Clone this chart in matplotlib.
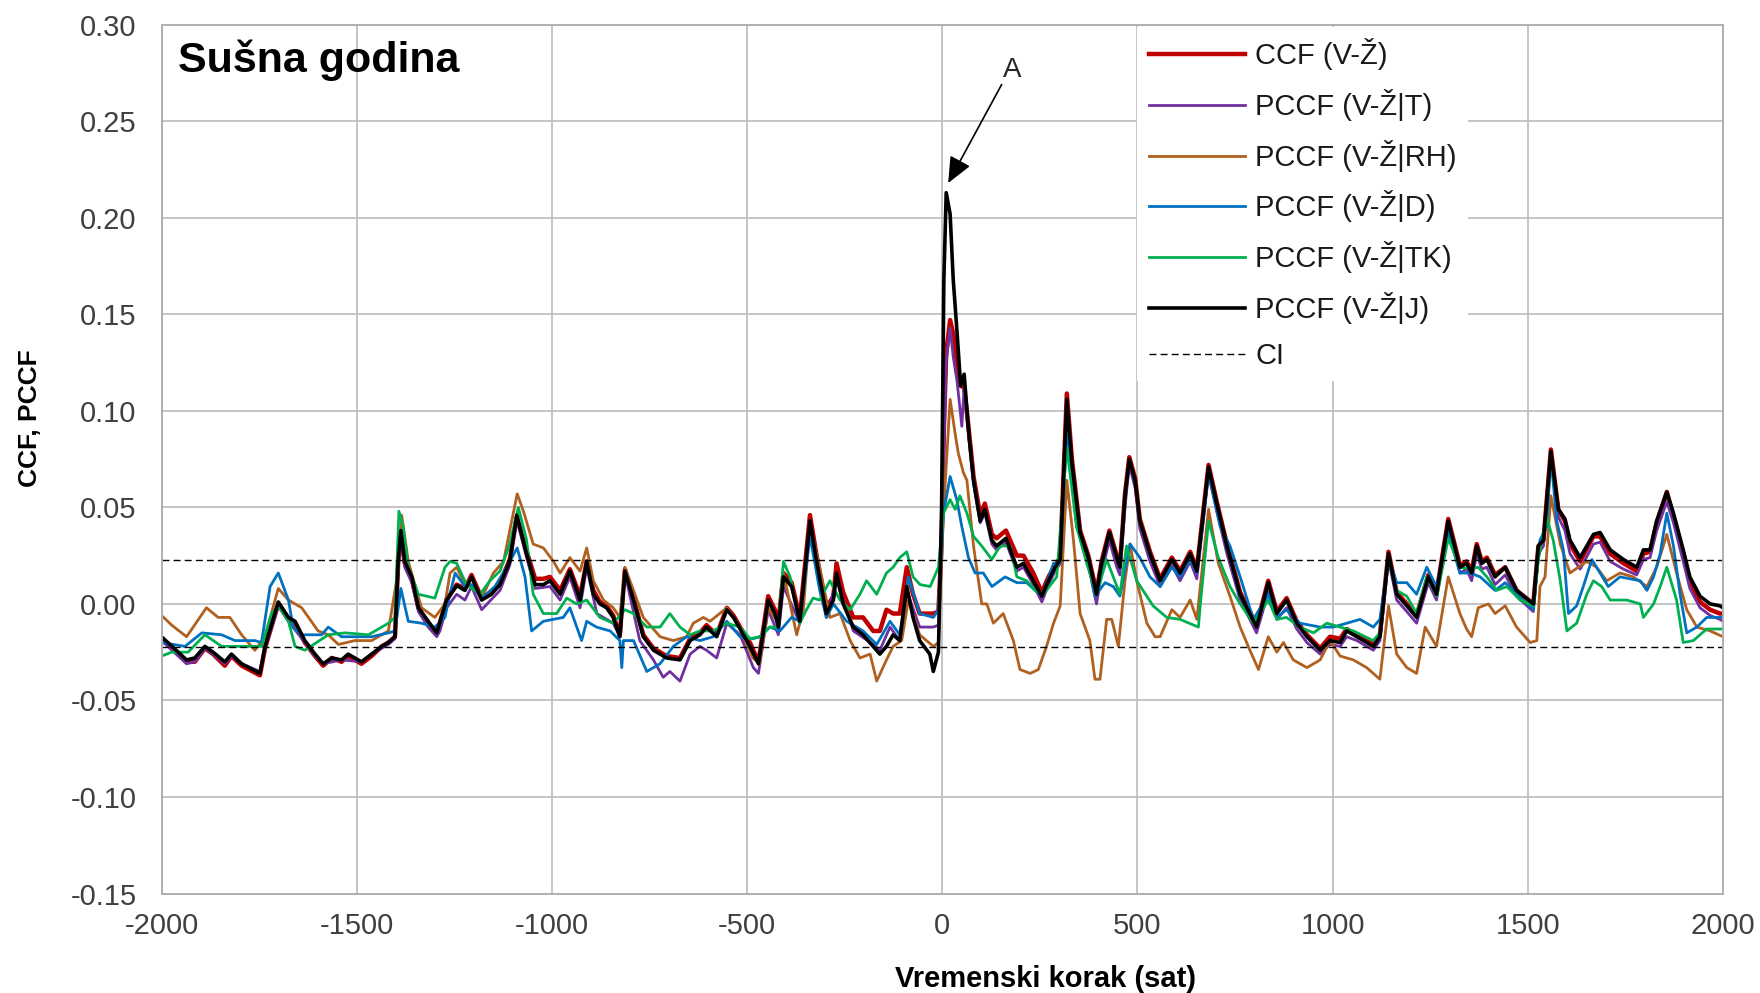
import matplotlib
matplotlib.use("Agg")
import matplotlib.pyplot as plt

plt.rcParams['font.family'] = ['Liberation Sans', 'DejaVu Sans']
plt.rcParams['axes.unicode_minus'] = False

# (lag in hours, coefficient)
ccf_pts = [(-2000, -0.018), (-1936, -0.030), (-1915, -0.030), (-1889, -0.023), (-1868, -0.026), (-1838, -0.032),
           (-1821, -0.027), (-1795, -0.032), (-1748, -0.037), (-1735, -0.023), (-1701, 0.000), (-1675, -0.008),
           (-1658, -0.010), (-1633, -0.020), (-1607, -0.027), (-1586, -0.032), (-1564, -0.028), (-1539, -0.030),
           (-1522, -0.027), (-1488, -0.031), (-1462, -0.027), (-1436, -0.022), (-1419, -0.020), (-1402, -0.017),
           (-1394, 0.021), (-1387, 0.036), (-1377, 0.021), (-1359, 0.013), (-1342, -0.002), (-1317, -0.010),
           (-1295, -0.015), (-1270, 0.002), (-1244, 0.010), (-1223, 0.008), (-1206, 0.015), (-1180, 0.003),
           (-1155, 0.006), (-1133, 0.011), (-1108, 0.023), (-1090, 0.045), (-1069, 0.030), (-1043, 0.013),
           (-1022, 0.013), (-1005, 0.014), (-979, 0.007), (-954, 0.018), (-928, 0.004), (-911, 0.022),
           (-894, 0.007), (-877, 0.001), (-860, -0.001), (-843, -0.006), (-826, -0.016), (-813, 0.018),
           (-791, 0.003), (-766, -0.016), (-740, -0.023), (-706, -0.027), (-672, -0.028), (-646, -0.018),
           (-621, -0.015), (-604, -0.011), (-578, -0.016), (-552, -0.002), (-535, -0.006), (-518, -0.012),
           (-493, -0.020), (-471, -0.030), (-446, 0.004), (-429, -0.003), (-420, -0.010), (-407, 0.016),
           (-386, 0.011), (-365, -0.007), (-339, 0.046), (-322, 0.025), (-297, -0.002), (-279, 0.004),
           (-271, 0.021), (-254, 0.006), (-228, -0.007), (-203, -0.007), (-177, -0.014), (-160, -0.014),
           (-143, -0.003), (-126, -0.005), (-109, -0.005), (-91, 0.019), (-75, 0.005), (-58, -0.005),
           (-32, -0.005), (-23, -0.005), (-10, -0.004), (-2, 0.030), (4, 0.090), (10, 0.130), (20, 0.147),
           (28, 0.140), (38, 0.124), (47, 0.113), (56, 0.112), (67, 0.092), (80, 0.066), (97, 0.046),
           (109, 0.052), (127, 0.036), (139, 0.034), (163, 0.038), (191, 0.025), (208, 0.025), (233, 0.016),
           (255, 0.006), (272, 0.014), (289, 0.020), (302, 0.024), (319, 0.109), (332, 0.075), (353, 0.038),
           (374, 0.025), (395, 0.006), (408, 0.022), (428, 0.038), (447, 0.025), (455, 0.020), (468, 0.057),
           (479, 0.076), (494, 0.065), (506, 0.044), (532, 0.027), (558, 0.013), (588, 0.024), (609, 0.017),
           (635, 0.027), (652, 0.018), (682, 0.072), (703, 0.053), (729, 0.031), (763, 0.006), (805, -0.011),
           (835, 0.012), (857, -0.004), (882, 0.003), (908, -0.009), (934, -0.016), (968, -0.023),
           (993, -0.017), (1019, -0.018), (1036, -0.013), (1062, -0.016), (1087, -0.019), (1104, -0.021),
           (1121, -0.016), (1143, 0.027), (1164, 0.006), (1190, 0.000), (1215, -0.006), (1245, 0.015),
           (1266, 0.006), (1296, 0.044), (1326, 0.020), (1343, 0.022), (1356, 0.017), (1369, 0.031),
           (1382, 0.022), (1395, 0.024), (1416, 0.015), (1442, 0.019), (1471, 0.007), (1514, 0.000),
           (1527, 0.030), (1540, 0.033), (1559, 0.080), (1578, 0.049), (1595, 0.043), (1608, 0.031),
           (1634, 0.022), (1668, 0.035), (1685, 0.035), (1711, 0.026), (1745, 0.021), (1779, 0.017),
           (1796, 0.026), (1813, 0.027), (1830, 0.042), (1856, 0.058), (1873, 0.045), (1898, 0.026),
           (1915, 0.012), (1941, 0.001), (1967, -0.003), (1992, -0.005), (2000, -0.005)]

pccf_t_pts = [(-2000, -0.019), (-1936, -0.031), (-1915, -0.030), (-1889, -0.023), (-1868, -0.026), (-1838, -0.031),
              (-1821, -0.027), (-1795, -0.031), (-1748, -0.035), (-1735, -0.023), (-1701, -0.001), (-1675, -0.009),
              (-1633, -0.020), (-1607, -0.027), (-1586, -0.031), (-1539, -0.029), (-1488, -0.030), (-1462, -0.026),
              (-1419, -0.021), (-1402, -0.018), (-1394, 0.019), (-1387, 0.034), (-1377, 0.019), (-1359, 0.011),
              (-1342, -0.004), (-1317, -0.012), (-1295, -0.017), (-1287, -0.014), (-1270, -0.002), (-1244, 0.005),
              (-1223, 0.002), (-1206, 0.009), (-1180, -0.003), (-1133, 0.007), (-1108, 0.020), (-1090, 0.044),
              (-1069, 0.027), (-1043, 0.008), (-1005, 0.009), (-979, 0.002), (-954, 0.014), (-928, -0.002),
              (-911, 0.019), (-885, -0.005), (-843, -0.010), (-826, -0.017), (-813, 0.016), (-775, -0.019),
              (-740, -0.029), (-715, -0.038), (-698, -0.035), (-672, -0.040), (-646, -0.026), (-621, -0.022),
              (-604, -0.024), (-578, -0.028), (-552, -0.010), (-535, -0.013), (-518, -0.016), (-484, -0.033),
              (-471, -0.036), (-446, -0.003), (-420, -0.016), (-407, 0.009), (-365, -0.010), (-339, 0.039),
              (-297, -0.007), (-271, 0.012), (-228, -0.014), (-177, -0.021), (-160, -0.024), (-134, -0.012),
              (-109, -0.019), (-91, 0.007), (-58, -0.012), (-23, -0.012), (-10, -0.011), (-2, 0.030), (4, 0.080),
              (10, 0.125), (20, 0.143), (28, 0.128), (38, 0.115), (50, 0.092), (56, 0.112), (67, 0.088),
              (80, 0.062), (97, 0.042), (109, 0.047), (127, 0.031), (139, 0.028), (163, 0.032), (191, 0.017),
              (208, 0.019), (233, 0.010), (255, 0.001), (272, 0.010), (289, 0.017), (302, 0.021), (319, 0.099),
              (332, 0.069), (353, 0.034), (374, 0.020), (395, 0.000), (408, 0.016), (428, 0.033), (447, 0.019),
              (455, 0.015), (468, 0.050), (479, 0.072), (494, 0.060), (506, 0.039), (532, 0.022), (558, 0.009),
              (588, 0.020), (609, 0.012), (635, 0.022), (652, 0.013), (682, 0.067), (703, 0.048), (729, 0.026),
              (763, 0.002), (805, -0.015), (835, 0.006), (857, -0.008), (882, -0.002), (908, -0.013),
              (934, -0.020), (968, -0.026), (993, -0.021), (1019, -0.022), (1036, -0.017), (1062, -0.019),
              (1087, -0.022), (1104, -0.024), (1121, -0.019), (1143, 0.023), (1164, 0.002), (1190, -0.004),
              (1215, -0.010), (1245, 0.011), (1266, 0.002), (1296, 0.040), (1326, 0.016), (1343, 0.018),
              (1356, 0.012), (1369, 0.026), (1382, 0.018), (1395, 0.019), (1416, 0.010), (1442, 0.015),
              (1471, 0.004), (1514, -0.004), (1527, 0.026), (1540, 0.030), (1559, 0.075), (1578, 0.045),
              (1595, 0.038), (1608, 0.026), (1634, 0.018), (1668, 0.031), (1685, 0.032), (1711, 0.022),
              (1745, 0.018), (1779, 0.015), (1796, 0.023), (1813, 0.024), (1830, 0.038), (1856, 0.053),
              (1873, 0.042), (1898, 0.022), (1915, 0.008), (1941, -0.002), (1967, -0.006), (1992, -0.008),
              (2000, -0.009)]

pccf_rh_pts = [(-2000, -0.006), (-1974, -0.011), (-1936, -0.017), (-1885, -0.002), (-1855, -0.007), (-1825, -0.007),
               (-1795, -0.016), (-1761, -0.024), (-1735, -0.017), (-1701, 0.008), (-1675, 0.002), (-1641, -0.002),
               (-1599, -0.014), (-1573, -0.016), (-1547, -0.021), (-1505, -0.019), (-1462, -0.019), (-1419, -0.014),
               (-1394, 0.017), (-1385, 0.046), (-1368, 0.022), (-1334, -0.002), (-1300, -0.007), (-1274, 0.000),
               (-1261, 0.016), (-1244, 0.019), (-1223, 0.010), (-1206, 0.014), (-1180, 0.003), (-1150, 0.016),
               (-1124, 0.022), (-1103, 0.043), (-1089, 0.057), (-1073, 0.048), (-1048, 0.031), (-1022, 0.029),
               (-996, 0.022), (-979, 0.016), (-954, 0.024), (-928, 0.017), (-911, 0.029), (-894, 0.012),
               (-868, 0.002), (-843, -0.002), (-826, -0.007), (-813, 0.019), (-791, 0.007), (-766, -0.007),
               (-723, -0.017), (-689, -0.019), (-655, -0.017), (-638, -0.010), (-612, -0.007), (-595, -0.009),
               (-552, -0.002), (-527, -0.009), (-485, -0.028), (-468, -0.031), (-446, -0.002), (-420, -0.010),
               (-407, 0.016), (-373, -0.016), (-356, -0.003), (-339, 0.041), (-314, 0.019), (-288, -0.007),
               (-262, -0.005), (-236, -0.019), (-211, -0.028), (-185, -0.026), (-168, -0.040), (-143, -0.029),
               (-126, -0.022), (-104, -0.019), (-87, 0.002), (-58, -0.016), (-23, -0.022), (-10, -0.020),
               (3, 0.047), (20, 0.106), (33, 0.088), (41, 0.078), (54, 0.068), (63, 0.064), (80, 0.030),
               (101, 0.000), (114, 0.000), (131, -0.010), (156, -0.005), (182, -0.019), (199, -0.034),
               (225, -0.036), (246, -0.034), (267, -0.022), (285, -0.010), (302, -0.001), (319, 0.064),
               (336, 0.033), (353, -0.005), (378, -0.019), (391, -0.039), (404, -0.039), (421, -0.008),
               (434, -0.008), (451, -0.022), (468, 0.012), (481, 0.031), (498, 0.012), (524, -0.010),
               (545, -0.017), (558, -0.017), (588, -0.003), (609, -0.007), (635, 0.002), (652, -0.008),
               (682, 0.049), (707, 0.021), (737, 0.004), (763, -0.012), (788, -0.024), (810, -0.034),
               (835, -0.017), (857, -0.025), (874, -0.020), (899, -0.029), (934, -0.033), (968, -0.029),
               (993, -0.019), (1019, -0.027), (1053, -0.029), (1087, -0.033), (1121, -0.039), (1143, -0.001),
               (1164, -0.026), (1190, -0.033), (1215, -0.036), (1237, -0.012), (1266, -0.022), (1296, 0.014),
               (1326, -0.005), (1343, -0.013), (1356, -0.017), (1373, -0.002), (1399, 0.000), (1416, -0.005),
               (1442, -0.001), (1471, -0.012), (1506, -0.020), (1523, -0.019), (1531, 0.009), (1544, 0.014),
               (1559, 0.056), (1583, 0.031), (1608, 0.016), (1629, 0.019), (1651, 0.022), (1676, 0.019),
               (1702, 0.012), (1736, 0.016), (1770, 0.014), (1805, 0.009), (1830, 0.019), (1856, 0.036),
               (1881, 0.016), (1907, -0.003), (1933, -0.012), (1967, -0.014), (2000, -0.017)]

pccf_d_pts = [(-2000, -0.020), (-1940, -0.022), (-1897, -0.015), (-1846, -0.016), (-1812, -0.019), (-1761, -0.019),
              (-1744, -0.020), (-1722, 0.009), (-1701, 0.016), (-1675, 0.002), (-1663, -0.012), (-1641, -0.016),
              (-1590, -0.016), (-1573, -0.012), (-1539, -0.017), (-1505, -0.017), (-1462, -0.017), (-1419, -0.015),
              (-1402, -0.014), (-1387, 0.008), (-1368, -0.009), (-1334, -0.010), (-1300, -0.012), (-1274, -0.007),
              (-1265, 0.002), (-1248, 0.016), (-1223, 0.009), (-1206, 0.010), (-1180, 0.003), (-1146, 0.009),
              (-1116, 0.019), (-1089, 0.029), (-1069, 0.014), (-1052, -0.014), (-1022, -0.009), (-996, -0.008),
              (-971, -0.007), (-954, -0.002), (-924, -0.019), (-911, -0.009), (-886, -0.012), (-851, -0.014),
              (-826, -0.019), (-821, -0.033), (-817, -0.019), (-791, -0.019), (-757, -0.035), (-723, -0.031),
              (-689, -0.022), (-655, -0.017), (-621, -0.019), (-587, -0.017), (-552, -0.009), (-518, -0.017),
              (-485, -0.018), (-467, -0.017), (-442, -0.012), (-416, -0.014), (-386, -0.007), (-365, -0.009),
              (-339, 0.035), (-314, 0.007), (-297, -0.007), (-279, 0.000), (-245, -0.009), (-203, -0.014),
              (-168, -0.021), (-134, -0.009), (-109, -0.016), (-87, 0.014), (-58, -0.005), (-23, -0.007),
              (-10, -0.003), (3, 0.047), (20, 0.066), (37, 0.054), (50, 0.040), (67, 0.024), (84, 0.016),
              (105, 0.016), (127, 0.009), (161, 0.014), (191, 0.011), (216, 0.011), (238, 0.007), (255, 0.004),
              (285, 0.021), (302, 0.021), (319, 0.092), (344, 0.040), (370, 0.026), (391, 0.004), (417, 0.011),
              (438, 0.009), (455, 0.004), (481, 0.031), (506, 0.024), (532, 0.014), (558, 0.009), (588, 0.019),
              (609, 0.014), (635, 0.023), (652, 0.016), (682, 0.068), (712, 0.040), (737, 0.030), (763, 0.014),
              (797, -0.008), (835, 0.005), (857, -0.007), (882, -0.003), (916, -0.010), (968, -0.012),
              (1002, -0.012), (1036, -0.010), (1070, -0.008), (1104, -0.012), (1121, -0.008), (1143, 0.024),
              (1164, 0.011), (1190, 0.011), (1215, 0.005), (1241, 0.019), (1266, 0.009), (1296, 0.037),
              (1326, 0.016), (1352, 0.016), (1378, 0.014), (1416, 0.007), (1442, 0.011), (1471, 0.005),
              (1514, -0.003), (1531, 0.033), (1548, 0.040), (1559, 0.076), (1574, 0.043), (1591, 0.028),
              (1604, -0.005), (1625, -0.001), (1642, 0.009), (1664, 0.023), (1685, 0.016), (1706, 0.009),
              (1736, 0.014), (1788, 0.012), (1805, 0.007), (1822, 0.014), (1839, 0.026), (1856, 0.047),
              (1873, 0.030), (1890, 0.005), (1907, -0.015), (1933, -0.012), (1958, -0.007), (2000, -0.007)]

pccf_tk_pts = [(-2000, -0.027), (-1974, -0.025), (-1932, -0.025), (-1889, -0.016), (-1846, -0.022), (-1803, -0.022),
               (-1744, -0.022), (-1718, -0.005), (-1701, -0.001), (-1675, -0.009), (-1658, -0.022), (-1633, -0.024),
               (-1573, -0.016), (-1530, -0.015), (-1470, -0.016), (-1419, -0.010), (-1402, -0.007), (-1392, 0.048),
               (-1381, 0.040), (-1368, 0.019), (-1342, 0.005), (-1300, 0.003), (-1274, 0.019), (-1261, 0.022),
               (-1244, 0.021), (-1219, 0.010), (-1184, 0.005), (-1159, 0.012), (-1133, 0.017), (-1108, 0.031),
               (-1086, 0.050), (-1065, 0.033), (-1048, 0.005), (-1022, -0.005), (-988, -0.005), (-962, 0.003),
               (-937, 0.000), (-911, 0.002), (-877, -0.007), (-843, -0.010), (-813, -0.003), (-791, -0.005),
               (-757, -0.012), (-723, -0.012), (-698, -0.005), (-672, -0.012), (-646, -0.016), (-621, -0.014),
               (-587, -0.014), (-552, -0.010), (-518, -0.012), (-493, -0.018), (-467, -0.017), (-442, -0.012),
               (-420, -0.012), (-407, 0.022), (-390, 0.014), (-365, -0.010), (-348, -0.003), (-331, 0.003),
               (-314, 0.002), (-288, 0.012), (-262, 0.002), (-236, -0.003), (-211, 0.005), (-194, 0.012),
               (-168, 0.005), (-143, 0.016), (-126, 0.019), (-109, 0.024), (-91, 0.027), (-75, 0.014),
               (-57, 0.010), (-31, 0.009), (-10, 0.019), (3, 0.047), (20, 0.054), (33, 0.049), (45, 0.056),
               (63, 0.047), (80, 0.035), (101, 0.030), (127, 0.023), (148, 0.030), (174, 0.030), (191, 0.014),
               (216, 0.012), (238, 0.007), (259, 0.005), (293, 0.014), (319, 0.081), (344, 0.040), (370, 0.021),
               (395, 0.005), (421, 0.023), (455, 0.005), (472, 0.030), (498, 0.012), (540, -0.001),
               (575, -0.007), (609, -0.008), (656, -0.012), (662, 0.002), (682, 0.043), (707, 0.024),
               (737, 0.009), (763, 0.000), (797, -0.010), (835, 0.002), (857, -0.008), (882, -0.007),
               (916, -0.012), (951, -0.015), (985, -0.010), (1019, -0.012), (1053, -0.014), (1104, -0.019),
               (1121, -0.015), (1143, 0.023), (1164, 0.007), (1190, 0.004), (1215, -0.005), (1241, 0.014),
               (1267, 0.004), (1296, 0.034), (1326, 0.019), (1352, 0.018), (1373, 0.019), (1395, 0.014),
               (1420, 0.007), (1446, 0.009), (1480, 0.002), (1514, -0.001), (1527, 0.023), (1548, 0.045),
               (1565, 0.033), (1583, 0.012), (1600, -0.014), (1625, -0.010), (1651, 0.005), (1668, 0.012),
               (1689, 0.009), (1711, 0.002), (1753, 0.002), (1788, 0.000), (1796, -0.007), (1822, 0.000),
               (1839, 0.009), (1856, 0.019), (1881, 0.002), (1898, -0.020), (1924, -0.019), (1958, -0.013),
               (2000, -0.013)]

pccf_j_pts = [(-2000, -0.017), (-1936, -0.029), (-1915, -0.028), (-1889, -0.022), (-1868, -0.025), (-1838, -0.030),
              (-1821, -0.026), (-1795, -0.031), (-1748, -0.036), (-1735, -0.022), (-1701, 0.001), (-1675, -0.007),
              (-1658, -0.009), (-1633, -0.019), (-1607, -0.026), (-1586, -0.031), (-1564, -0.028), (-1539, -0.029),
              (-1522, -0.026), (-1488, -0.030), (-1462, -0.026), (-1436, -0.022), (-1419, -0.020), (-1402, -0.017),
              (-1394, 0.022), (-1387, 0.038), (-1377, 0.022), (-1359, 0.014), (-1342, -0.002), (-1317, -0.009),
              (-1295, -0.015), (-1270, 0.002), (-1244, 0.0095), (-1223, 0.007), (-1206, 0.014), (-1180, 0.002),
              (-1155, 0.005), (-1133, 0.010), (-1108, 0.022), (-1090, 0.046), (-1069, 0.029), (-1043, 0.010),
              (-1022, 0.010), (-1005, 0.012), (-979, 0.005), (-954, 0.017), (-928, 0.002), (-911, 0.022),
              (-894, 0.005), (-877, 0.000), (-860, -0.002), (-843, -0.007), (-826, -0.017), (-813, 0.017),
              (-791, 0.002), (-766, -0.017), (-740, -0.024), (-706, -0.028), (-672, -0.029), (-646, -0.019),
              (-621, -0.016), (-604, -0.012), (-578, -0.017), (-552, -0.003), (-535, -0.007), (-518, -0.013),
              (-493, -0.022), (-471, -0.031), (-446, 0.002), (-429, -0.005), (-420, -0.012), (-407, 0.014),
              (-386, 0.009), (-365, -0.009), (-339, 0.043), (-322, 0.022), (-297, -0.005), (-279, 0.002),
              (-271, 0.016), (-254, 0.000), (-228, -0.012), (-203, -0.016), (-177, -0.022), (-160, -0.026),
              (-143, -0.022), (-126, -0.016), (-109, -0.019), (-91, 0.009), (-75, -0.007), (-58, -0.019),
              (-32, -0.026), (-23, -0.035), (-10, -0.025), (-2, 0.047), (4, 0.168), (10, 0.213), (20, 0.202),
              (28, 0.168), (38, 0.140), (47, 0.113), (56, 0.119), (67, 0.090), (80, 0.064), (97, 0.043),
              (109, 0.049), (127, 0.033), (139, 0.030), (163, 0.034), (191, 0.019), (208, 0.021), (233, 0.012),
              (255, 0.004), (272, 0.012), (289, 0.019), (302, 0.023), (319, 0.106), (332, 0.073), (353, 0.037),
              (374, 0.024), (395, 0.005), (408, 0.021), (428, 0.037), (447, 0.024), (455, 0.019), (468, 0.056),
              (479, 0.075), (494, 0.064), (506, 0.043), (532, 0.026), (558, 0.012), (588, 0.023), (609, 0.016),
              (635, 0.026), (652, 0.017), (682, 0.071), (703, 0.052), (729, 0.030), (763, 0.005), (805, -0.012),
              (835, 0.011), (857, -0.005), (882, 0.002), (908, -0.010), (934, -0.017), (968, -0.024),
              (993, -0.019), (1019, -0.020), (1036, -0.014), (1062, -0.017), (1087, -0.020), (1104, -0.022),
              (1121, -0.017), (1143, 0.026), (1164, 0.005), (1190, -0.001), (1215, -0.007), (1245, 0.014),
              (1266, 0.005), (1296, 0.043), (1326, 0.019), (1343, 0.021), (1356, 0.016), (1369, 0.030),
              (1382, 0.021), (1395, 0.023), (1416, 0.014), (1442, 0.019), (1471, 0.007), (1514, 0.000),
              (1527, 0.030), (1540, 0.033), (1559, 0.079), (1578, 0.049), (1595, 0.044), (1608, 0.033),
              (1634, 0.024), (1668, 0.036), (1685, 0.037), (1711, 0.028), (1745, 0.023), (1779, 0.019),
              (1796, 0.028), (1813, 0.028), (1830, 0.043), (1856, 0.058), (1873, 0.047), (1898, 0.028),
              (1915, 0.014), (1941, 0.004), (1967, 0.000), (1992, -0.001), (2000, -0.002)]

ci_level = 0.0225
labels = ['CCF (V-Ž)', 'PCCF (V-Ž|T)', 'PCCF (V-Ž|RH)', 'PCCF (V-Ž|D)', 'PCCF (V-Ž|TK)', 'PCCF (V-Ž|J)']
colors = ['#C00000', '#7030A0', '#B0601F', '#0070C0', '#00B050', '#000000']
widths = [3.2, 2.0, 2.0, 2.0, 2.0, 2.6]
series = [ccf_pts, pccf_t_pts, pccf_rh_pts, pccf_d_pts, pccf_tk_pts, pccf_j_pts]

fig = plt.figure(figsize=(17.6, 9.93), dpi=100)
ax = fig.add_axes([0.0918, 0.1002, 0.8872, 0.8749])

handles = []
for pts, lab, col, lw in zip(series, labels, colors, widths):
    xs = [p[0] for p in pts]
    ys = [p[1] for p in pts]
    line, = ax.plot(xs, ys, color=col, lw=lw, label=lab, solid_joinstyle='round')
    handles.append(line)

ci_line, = ax.plot([-2000, 2000], [ci_level, ci_level], color='black', lw=1.0,
                   linestyle=(0, (5, 3)), label='CI')
ax.plot([-2000, 2000], [-ci_level, -ci_level], color='black', lw=1.0, linestyle=(0, (5, 3)))
handles.append(ci_line)

ax.set_xlim(-2000, 2000)
ax.set_ylim(-0.15, 0.30)
ax.set_xticks(range(-2000, 2001, 500))
ax.set_yticks([-0.15 + 0.05 * i for i in range(10)])
ax.set_yticklabels([f'{-0.15 + 0.05 * i:.2f}' for i in range(10)])
ax.tick_params(axis='both', length=0, labelsize=21, labelcolor='#404040')
ax.tick_params(axis='y', pad=18)
ax.tick_params(axis='x', pad=13)
ax.grid(True, color='#c0c0c0', lw=1.3)
ax.set_axisbelow(True)
for sp in ax.spines.values():
    sp.set_color('#b0b0b0')
    sp.set_linewidth(1.4)

ax.set_xlabel('Vremenski korak (sat)', fontsize=21, fontweight='bold')
ax.xaxis.set_label_coords(0.566, -0.082)
ax.set_ylabel('CCF, PCCF', fontsize=19, fontweight='bold')
ax.yaxis.set_label_coords(-0.0766, 0.547)

ax.text(0.0105, 0.9456, 'Sušna godina', transform=ax.transAxes, fontsize=31,
        fontweight='bold', va='baseline', ha='left')

ax.annotate('', xy=(15, 0.218), xytext=(152, 0.269),
            arrowprops=dict(arrowstyle='-|>,head_length=0.8,head_width=0.35', color='black',
                            lw=1.2, shrinkA=0, shrinkB=0, mutation_scale=20))
ax.text(178, 0.2731, 'A', fontsize=20, color='#262626', ha='center', va='baseline')

leg = ax.legend(handles=handles, loc='upper left', bbox_to_anchor=(0.625, 0.997),
                frameon=True, facecolor='white', edgecolor='none', framealpha=1, fancybox=False,
                fontsize=21, handlelength=3.3, handletextpad=0.35, labelspacing=0.64,
                borderpad=0.38, borderaxespad=0.0)
for t in leg.get_texts():
    t.set_color('#1a1a1a')

fig.savefig('out.png', dpi=100)
